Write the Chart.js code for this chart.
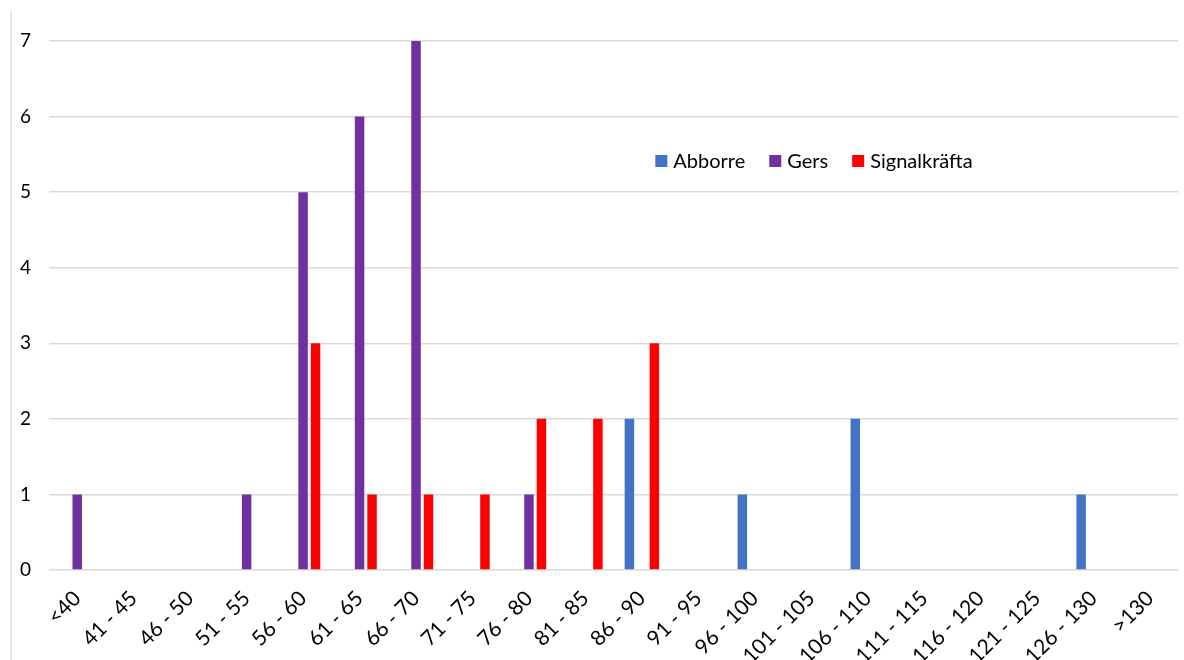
<!DOCTYPE html>
<html>
<head>
<meta charset="utf-8">
<script src="https://cdn.jsdelivr.net/npm/chart.js@4/dist/chart.umd.min.js"></script>
<style>
  html, body { margin: 0; padding: 0; background: #fff; }
  #wrap { position: relative; width: 1184px; height: 660px; }
  canvas { display: block; }
</style>
</head>
<body>
<div id="wrap"><canvas id="c" width="1184" height="660"></canvas></div>
<script>
// Length classes (mm)
const categories = ['<40', '41 - 45', '46 - 50', '51 - 55', '56 - 60', '61 - 65', '66 - 70', '71 - 75',
  '76 - 80', '81 - 85', '86 - 90', '91 - 95', '96 - 100', '101 - 105', '106 - 110', '111 - 115',
  '116 - 120', '121 - 125', '126 - 130', '>130'];

// Number of individuals per length class
const abborre      = [0, 0, 0, 0, 0, 0, 0, 0, 0, 0, 2, 0, 1, 0, 2, 0, 0, 0, 1, 0];
const gers         = [1, 0, 0, 1, 5, 6, 7, 0, 1, 0, 0, 0, 0, 0, 0, 0, 0, 0, 0, 0];
const signalkrafta = [0, 0, 0, 0, 3, 1, 1, 1, 2, 2, 3, 0, 0, 0, 0, 0, 0, 0, 0, 0];

const yTicks = [0, 1, 2, 3, 4, 5, 6, 7];

const FONT = 'Lato, "Liberation Sans", sans-serif';
const TEXT = '#000000';
const GRID = '#d9d9d9';

// Frame line on the left edge
const frameLine = {
  id: 'frameLine',
  beforeDraw(chart) {
    const ctx = chart.ctx;
    ctx.save();
    ctx.fillStyle = GRID;
    ctx.fillRect(10.5, 11, 1.3, chart.height - 11);
    ctx.restore();
  }
};

// Legend placed inside the plot area
const innerLegend = {
  id: 'innerLegend',
  afterDraw(chart) {
    const ctx = chart.ctx;
    const size = 12, gapText = 6, gapItem = 24;
    ctx.save();
    ctx.font = '20px ' + FONT;
    ctx.textBaseline = 'middle';
    ctx.textAlign = 'left';
    const items = chart.data.datasets.map(d => ({
      label: d.label, color: d.backgroundColor, w: ctx.measureText(d.label).width
    }));
    let total = 0;
    items.forEach((it, i) => { total += size + gapText + it.w + (i < items.length - 1 ? gapItem : 0); });
    let x = 814 - total / 2;
    const cy = 161;
    items.forEach(it => {
      ctx.fillStyle = it.color;
      ctx.fillRect(x, cy - size / 2, size, size);
      x += size + gapText;
      ctx.fillStyle = TEXT;
      ctx.fillText(it.label, x, cy + 1);
      x += it.w + gapItem;
    });
    ctx.restore();
  }
};

new Chart(document.getElementById('c'), {
  type: 'bar',
  data: {
    labels: categories,
    datasets: [
      { label: 'Abborre', data: abborre, backgroundColor: '#4472c4' },
      { label: 'Gers', data: gers, backgroundColor: '#7030a0' },
      { label: 'Signalkräfta', data: signalkrafta, backgroundColor: '#ff0000' }
    ]
  },
  options: {
    responsive: false,
    animation: false,
    devicePixelRatio: 1,
    categoryPercentage: 0.663,
    barPercentage: 0.76,
    layout: { padding: { top: 41, right: 4, left: 0, bottom: 0 } },
    plugins: {
      legend: { display: false },
      tooltip: { enabled: false }
    },
    scales: {
      x: {
        grid: { display: false, drawTicks: false },
        border: { display: false },
        ticks: {
          autoSkip: false,
          minRotation: 45,
          maxRotation: 45,
          padding: 16,
          color: TEXT,
          font: { family: FONT, size: 21 }
        },
        afterFit(s) { s.height = 90; }
      },
      y: {
        min: 0,
        max: yTicks[yTicks.length - 1],
        afterBuildTicks(s) { s.ticks = yTicks.map(v => ({ value: v })); },
        grid: { color: GRID, lineWidth: 1.5, drawTicks: false },
        border: { display: false },
        ticks: {
          padding: 18,
          color: TEXT,
          font: { family: FONT, size: 19 }
        },
        afterFit(s) { s.width = 49; }
      }
    }
  },
  plugins: [frameLine, innerLegend]
});
</script>
</body>
</html>
